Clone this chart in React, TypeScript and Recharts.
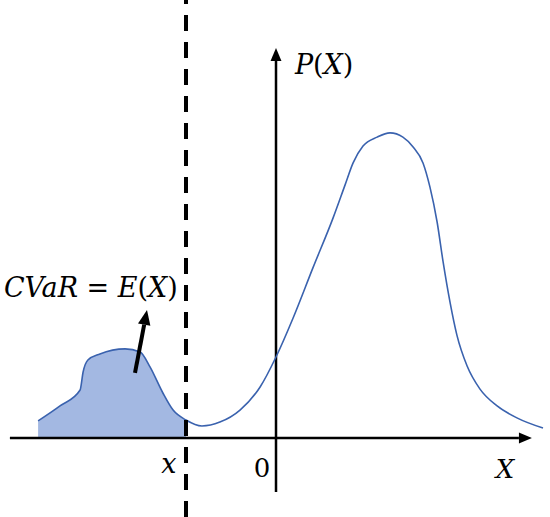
import React from 'react';
import { ComposedChart, Line, Area, XAxis, YAxis, ReferenceLine, ReferenceDot } from 'recharts';

// density curve (x: 0 at the P(X) axis, VaR at -3)
const xs = [
  -7.93, -7.2, -6.53, -6.43, -6.27, -5.87, -5.03, -4.53, -4.2, -3.77, -3.43, -3,
  -2.47, -1.87, -1.2, -0.53, 0, 0.57, 1.23, 1.9, 2.3, 2.57, 2.9, 3.37, 3.8,
  4.23, 4.57, 4.9, 5.13, 5.37, 5.57, 5.8, 6.03, 6.37, 6.8, 7.37, 8.03, 8.9,
];
const density = [
  0.57, 1.07, 1.6, 2.2, 2.6, 2.8, 2.97, 2.87, 2.37, 1.5, 0.93, 0.6,
  0.4, 0.53, 0.93, 1.7, 2.7, 4.0, 5.67, 7.33, 8.43, 9.17, 9.73, 10.03, 10.17,
  10.03, 9.7, 9.17, 8.37, 7.2, 5.87, 4.53, 3.43, 2.4, 1.63, 1.07, 0.67, 0.33,
];
const VAR_X = -3;
const X_DOMAIN = [-9.2, 9.133];
const Y_DOMAIN = [-2.633, 14.6];
const H_AXIS = [-8.87, 8.53];
const V_AXIS = [-1.8, 13.0];
const CVAR_ARROW = [{ x: -4.7, y: 2.17 }, { x: -4.3, y: 4.27 }];

const data = xs.map((x, i) => ({ x, p: density[i], tail: x <= VAR_X ? density[i] : null }));

const LINE = '#3a62ae';
const FILL = '#a3b8e2';
const FONT = '"DejaVu Serif", serif';

const arrowLine = (width: number, head: number) => (props: any) => {
  const { x1, y1, x2, y2 } = props;
  const ang = Math.atan2(y2 - y1, x2 - x1);
  const bx = x2 - Math.cos(ang) * head;
  const by = y2 - Math.sin(ang) * head;
  const nx = -Math.sin(ang) * head * 0.42;
  const ny = Math.cos(ang) * head * 0.42;
  return (
    <g>
      <line x1={x1} y1={y1} x2={bx} y2={by} stroke="#000" strokeWidth={width} />
      <polygon points={`${x2},${y2} ${bx + nx},${by + ny} ${bx - nx},${by - ny}`} fill="#000" />
    </g>
  );
};

const mathText = (parts: [string, boolean][], size: number, anchor = 'start') => (props: any) => (
  <text x={props.cx} y={props.cy} fontFamily={FONT} fontSize={size} textAnchor={anchor} fill="#000">
    {parts.map(([t, it], i) => (
      <tspan key={i} fontStyle={it ? 'italic' : 'normal'}>{t}</tspan>
    ))}
  </text>
);

export default function App() {
  return (
    <div style={{ position: 'absolute', left: 0, top: 0, width: 550, height: 517, background: '#fff' }}>
      <ComposedChart width={550} height={517} data={data} margin={{ top: 0, right: 0, bottom: 0, left: 0 }}>
        <XAxis dataKey="x" type="number" domain={X_DOMAIN} hide allowDataOverflow />
        <YAxis type="number" domain={Y_DOMAIN} hide allowDataOverflow />
        <Area dataKey="tail" type="monotone" baseValue={0} fill={FILL} fillOpacity={1} stroke="none"
          dot={false} activeDot={false} isAnimationActive={false} connectNulls={false} />
        <ReferenceLine segment={[{ x: H_AXIS[0], y: 0 }, { x: H_AXIS[1], y: 0 }]} shape={arrowLine(2.5, 13)} />
        <ReferenceLine segment={[{ x: 0, y: V_AXIS[0] }, { x: 0, y: V_AXIS[1] }]} shape={arrowLine(2.5, 13)} />
        <Line dataKey="p" type="monotone" stroke={LINE} strokeWidth={1.6} dot={false} activeDot={false}
          isAnimationActive={false} />
        <ReferenceLine x={VAR_X} stroke="#000" strokeWidth={4} strokeDasharray="16 11" />
        <ReferenceLine segment={CVAR_ARROW} shape={arrowLine(4, 15)} />
        <ReferenceDot x={-9.07} y={4.7} r={0} shape={mathText([['CVaR', true], [' = ', false], ['E', true], ['(', false], ['X', true], [')', false]], 27)} />
        <ReferenceDot x={0.63} y={12.13} r={0} shape={mathText([['P', true], ['(', false], ['X', true], [')', false]], 27)} />
        <ReferenceDot x={-3.57} y={-1.17} r={0} shape={mathText([['x', true]], 27, 'middle')} />
        <ReferenceDot x={-0.47} y={-1.3} r={0} shape={mathText([['0', false]], 26, 'middle')} />
        <ReferenceDot x={7.63} y={-1.33} r={0} shape={mathText([['X', true]], 26, 'middle')} />
      </ComposedChart>
    </div>
  );
}
